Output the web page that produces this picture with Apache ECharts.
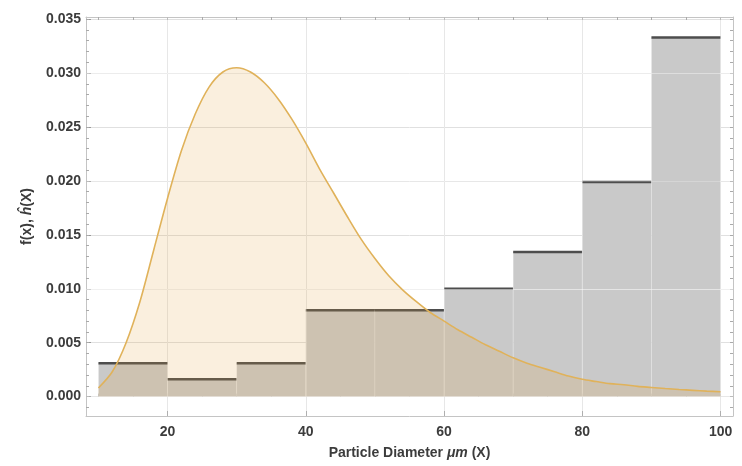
<!DOCTYPE html>
<html>
<head>
<meta charset="utf-8">
<script src="https://cdn.jsdelivr.net/npm/echarts@6/dist/echarts.min.js"></script>
<style>
  html, body { margin: 0; padding: 0; background: #fff; }
  #chart { width: 742px; height: 466px; }
</style>
</head>
<body>
<div id="chart"></div>
<script>
// histogram bins (width 10) and their density h(X)
const binStart = [10, 20, 30, 40, 50, 60, 70, 80, 90];
const binEnd = [20, 30, 40, 50, 60, 70, 80, 90, 100];
const binDensity = [0.0031, 0.0016, 0.0031, 0.008, 0.008, 0.01, 0.0134, 0.0199, 0.0333];

// fitted density f(x), every 2 units
const curveX = [10, 12, 14, 16, 18, 20, 22, 24, 26, 28, 30, 32, 34, 36, 38, 40, 42, 44, 46, 48, 50,
  52, 54, 56, 58, 60, 62, 64, 66, 68, 70, 72, 74, 76, 78, 80, 82, 84, 86, 88, 90, 92, 94, 96, 98, 100];
const curveY = [0.0008, 0.0023, 0.005, 0.0088, 0.0136, 0.0184, 0.0228, 0.0262, 0.0287, 0.0301, 0.0305,
  0.0301, 0.0291, 0.0276, 0.0257, 0.0235, 0.0211, 0.0189, 0.0167, 0.0146, 0.0128,
  0.0112, 0.0099, 0.0088, 0.0078, 0.007, 0.0062, 0.0055, 0.0048, 0.0042, 0.0036,
  0.0031, 0.0027, 0.0023, 0.0019, 0.0016, 0.0014, 0.0012, 0.0011, 0.00095, 0.00085,
  0.00075, 0.00066, 0.00058, 0.00051, 0.00045];

// ticks
const xMajor = [20, 40, 60, 80, 100];
const xMinor = [10, 15, 20, 25, 30, 35, 40, 45, 50, 55, 60, 65, 70, 75, 80, 85, 90, 95, 100];
const yMajor = [0, 0.005, 0.01, 0.015, 0.02, 0.025, 0.03, 0.035];
const yMinor = [-0.001, 0, 0.001, 0.002, 0.003, 0.004, 0.005, 0.006, 0.007, 0.008, 0.009, 0.01,
  0.011, 0.012, 0.013, 0.014, 0.015, 0.016, 0.017, 0.018, 0.019, 0.02, 0.021, 0.022, 0.023,
  0.024, 0.025, 0.026, 0.027, 0.028, 0.029, 0.03, 0.031, 0.032, 0.033, 0.034, 0.035];

const chart = echarts.init(document.getElementById("chart"));

const frameColor = "#c4c4c4";
const labelFont = { fontSize: 14, fontWeight: "bold", color: "#3c3c3c", fontFamily: "Liberation Sans, Arial" };

// extra axes only carry the frame and minor ticks
const tickAxis = (extra) =>
  Object.assign(
    {
      type: "value",
      gridIndex: 0,
      axisLabel: { show: false },
      splitLine: { show: false },
      axisLine: { show: false },
    },
    extra
  );

const option = {
  animation: false,
  grid: { left: 86, right: 9, top: 17, bottom: 50 },
  xAxis: [
    {
      type: "value",
      min: 8.2,
      max: 101.8,
      name: "{a|Particle Diameter }{i|μm}{a| (X)}",
      nameLocation: "middle",
      nameGap: 30,
      nameTextStyle: {
        rich: {
          a: labelFont,
          i: Object.assign({}, labelFont, { fontStyle: "italic" }),
        },
      },
      axisLine: { show: true, onZero: false, lineStyle: { color: frameColor, width: 1 } },
      axisTick: { show: true, inside: true, length: 5, customValues: xMajor, lineStyle: { color: "#999" } },
      axisLabel: Object.assign({ customValues: xMajor, margin: 9 }, labelFont),
      splitLine: { show: true, lineStyle: { color: "#e0e0e0", width: 1 } },
    },
    tickAxis({
      min: 8.2,
      max: 101.8,
      position: "bottom",
      axisTick: { show: true, inside: true, length: 3, customValues: xMinor, lineStyle: { color: "#aaa" } },
    }),
    tickAxis({
      min: 8.2,
      max: 101.8,
      position: "top",
      axisLine: { show: true, onZero: false, lineStyle: { color: frameColor, width: 1 } },
      axisTick: { show: true, inside: true, length: 3, customValues: xMinor, lineStyle: { color: "#aaa" } },
    }),
  ],
  yAxis: [
    {
      type: "value",
      min: -0.0018,
      max: 0.0352,
      name: "{a|f(x), }{i|ĥ}{a|(X)}",
      nameLocation: "middle",
      nameGap: 52,
      nameTextStyle: {
        rich: {
          a: labelFont,
          i: Object.assign({}, labelFont, { fontStyle: "italic" }),
        },
      },
      axisLine: { show: true, onZero: false, lineStyle: { color: frameColor, width: 1 } },
      axisTick: { show: true, inside: true, length: 5, customValues: yMajor, lineStyle: { color: "#999" } },
      axisLabel: Object.assign(
        { customValues: yMajor, margin: 5, formatter: (v) => v.toFixed(3) },
        labelFont
      ),
      splitLine: { show: true, lineStyle: { color: "#e0e0e0", width: 1 } },
    },
    tickAxis({
      min: -0.0018,
      max: 0.0352,
      position: "left",
      axisTick: { show: true, inside: true, length: 3, customValues: yMinor, lineStyle: { color: "#aaa" } },
    }),
    tickAxis({
      min: -0.0018,
      max: 0.0352,
      position: "right",
      axisLine: { show: true, onZero: false, lineStyle: { color: frameColor, width: 1 } },
      axisTick: { show: true, inside: true, length: 3, customValues: yMinor, lineStyle: { color: "#aaa" } },
    }),
  ],
  series: [
    {
      name: "histogram",
      type: "custom",
      xAxisIndex: 0,
      yAxisIndex: 0,
      encode: { x: [0, 1], y: 2 },
      data: binStart.map((s, i) => [s, binEnd[i], binDensity[i]]),
      renderItem: (params, api) => {
        const topLeft = api.coord([api.value(0), api.value(2)]);
        const bottomRight = api.coord([api.value(1), 0]);
        return {
          type: "group",
          children: [
            {
              type: "rect",
              shape: {
                x: topLeft[0],
                y: topLeft[1],
                width: bottomRight[0] - topLeft[0],
                height: bottomRight[1] - topLeft[1],
              },
              style: { fill: "#c9c9c9", stroke: "rgba(255,255,255,0.2)", lineWidth: 1 },
            },
            {
              type: "line",
              shape: { x1: topLeft[0], y1: topLeft[1], x2: bottomRight[0], y2: topLeft[1] },
              style: { stroke: "#4d4d4d", lineWidth: 2.5 },
            },
          ],
        };
      },
      // faint grid lines show through the grey bins
      markLine: {
        silent: true,
        symbol: "none",
        label: { show: false },
        lineStyle: { color: "rgba(255,255,255,0.22)", type: "solid", width: 1 },
        data: yMajor.map((v) => ({ yAxis: v })).concat(xMajor.map((v) => ({ xAxis: v }))),
      },
    },
    {
      name: "f(x)",
      type: "line",
      xAxisIndex: 0,
      yAxisIndex: 0,
      smooth: 0.3,
      showSymbol: false,
      data: curveX.map((x, i) => [x, curveY[i]]),
      lineStyle: { color: "#e0b25a", width: 1.6 },
      areaStyle: { color: "rgba(226,159,59,0.24)" },
      z: 6,
    },
  ],
};

chart.setOption(option);
</script>
</body>
</html>
